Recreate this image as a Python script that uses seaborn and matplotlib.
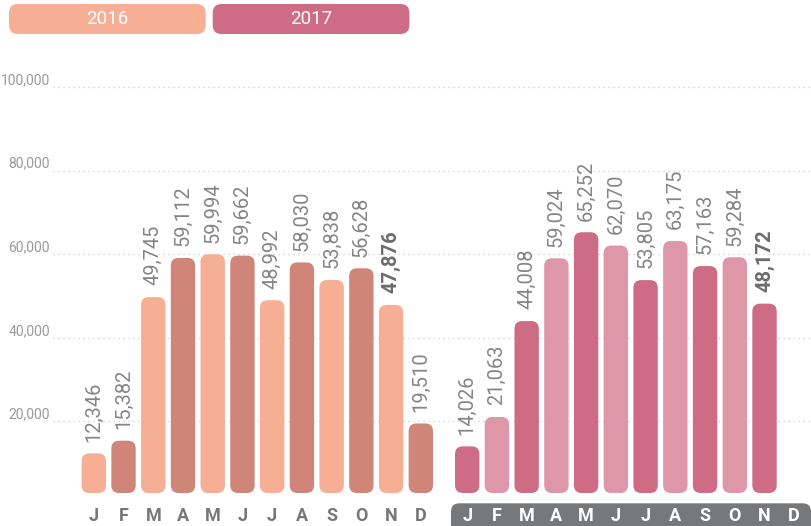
import numpy as np
import pandas as pd
import seaborn as sns
import matplotlib.pyplot as plt
from matplotlib.patches import FancyBboxPatch

months = ['J', 'F', 'M', 'A', 'M', 'J', 'J', 'A', 'S', 'O', 'N', 'D']
years = ['2016', '2017']
sales_2016 = [12346, 15382, 49745, 59112, 59994, 59662, 48992, 58030, 53838, 56628, 47876, 19510]
sales_2017 = [14026, 21063, 44008, 59024, 65252, 62070, 53805, 63175, 57163, 59284, 48172]
y_ticks = [20000, 40000, 60000, 80000, 100000]

colors = {'2016a': '#f6ae95', '2016b': '#cf8679',
          '2017a': '#ce6c86', '2017b': '#de97a9'}
year_colors = ['#f6ae95', '#ce6c86']

# layout in pixels of the 811x526 figure
X0, DX = 93.8, 29.73     # centre of first bar, bar pitch
Y0, DY = 505.0, 0.00418  # zero line, px per unit
GAP = 12.56              # x position where 2017 starts


def px_x(px):
    return (px - X0) / DX


def px_y(py):
    return (Y0 - py) / DY


pos_2016 = np.arange(12, dtype=float)
pos_2017 = GAP + np.arange(12)

df = pd.DataFrame({
    'pos': np.concatenate([pos_2016, pos_2017[:len(sales_2017)]]),
    'value': sales_2016 + sales_2017,
    'shade': ['2016' + 'ab'[i % 2] for i in range(12)] + ['2017' + 'ab'[i % 2] for i in range(len(sales_2017))],
})

sns.set_style('white')
plt.rcParams['font.family'] = ['Roboto', 'DejaVu Sans']

fig = plt.figure(figsize=(8.11, 5.26), dpi=100)
ax = fig.add_axes([0, 0, 1, 1])
sns.barplot(data=df, x='pos', y='value', hue='shade', palette=colors, native_scale=True,
            dodge=False, width=0.82, errorbar=None, legend=False, saturation=1, ax=ax)
ax.set_xlim(px_x(0), px_x(811))
ax.set_ylim(px_y(526), px_y(0))
ax.set_axis_off()

# rounded bars
asp = DX / DY
base = px_y(493)
for p in list(ax.patches):
    x0, w, h = p.get_x(), p.get_width(), p.get_height()
    fc = p.get_facecolor()
    p.remove()
    ax.add_patch(FancyBboxPatch((x0, base), w, h - base, boxstyle='round,pad=0,rounding_size=0.26',
                                mutation_aspect=asp, fc=fc, ec='none', zorder=2))

# dotted grid + labels
ax.hlines(y_ticks, px_x(53), px_x(811), colors='#c6c6c6', linewidth=1,
          linestyles=(0, (0.8, 2.8)), zorder=0)
for t in y_ticks:
    ax.text(px_x(50), t, f'{t:,}', ha='right', va='bottom', fontsize=10,
            color='#999999')

# value labels
for pos, vals in [(pos_2016, sales_2016), (pos_2017, sales_2017)]:
    for i, v in enumerate(vals):
        bold = i == 10
        ax.annotate(f'{v:,}', (pos[i], v), xytext=(0, 8.4), textcoords='offset points',
                    rotation=90, ha='center', va='bottom', fontsize=14.5,
                    color='#6c6c6c' if bold else '#858585',
                    fontweight='bold' if bold else 'normal', zorder=3)

# month band for 2017
ax.add_patch(FancyBboxPatch((px_x(451), px_y(545)), px_x(811) - px_x(451), px_y(503.3) - px_y(545),
                            boxstyle='round,pad=0,rounding_size=0.28', mutation_aspect=asp,
                            fc='#77787a', ec='none', zorder=1))
for i, m in enumerate(months):
    ax.text(pos_2016[i], px_y(516), m, ha='center', va='center', fontsize=13,
            fontweight='bold', color='#777777')
    ax.text(pos_2017[i], px_y(516), m, ha='center', va='center', fontsize=13,
            fontweight='bold', color='white', zorder=3)

# year legend boxes
for k, (yr, c) in enumerate(zip(years, year_colors)):
    left = 9 + k * 203.7
    ax.add_patch(FancyBboxPatch((px_x(left), px_y(34)), px_x(left + 196.7) - px_x(left), px_y(4) - px_y(34),
                                boxstyle='round,pad=0,rounding_size=0.3', mutation_aspect=asp,
                                fc=c, ec='none', zorder=1))
    ax.text(px_x(left + 98.3), px_y(19.5), yr, ha='center', va='center', fontsize=13.5,
            color='white', zorder=2)

fig.savefig('out.png', dpi=100)
